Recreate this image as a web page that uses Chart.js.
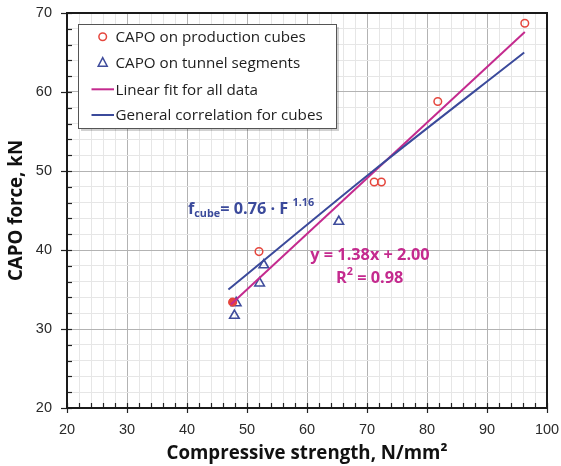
<!DOCTYPE html>
<html>
<head>
<meta charset="utf-8">
<script src="https://cdn.jsdelivr.net/npm/chart.js@4/dist/chart.umd.min.js"></script>
<style>
html,body{margin:0;padding:0;background:#fff;}
#wrap{width:561px;height:466px;}
</style>
</head>
<body>
<div id="wrap"><canvas id="c" width="561" height="466"></canvas></div>
<script>
// ---- data ----
const cubesX = [47.6, 52.0, 71.2, 72.4, 81.8, 96.3];
const cubesY = [33.4, 39.8, 48.6, 48.6, 58.8, 68.7];
const segmentsX = [48.2, 47.9, 52.1, 52.8, 65.3];
const segmentsY = [33.3, 31.7, 35.8, 38.1, 43.6];
const linearFitX = [47.3, 96.3];
const linearFitY = [33.1, 67.6];
const correlationX = [46.9, 71.0, 96.2];
const correlationY = [35.0, 50.0, 65.0];
const seriesLabels = ['CAPO on production cubes', 'CAPO on tunnel segments', 'Linear fit for all data', 'General correlation for cubes'];
const xTitle = 'Compressive strength, N/mm²';
const yTitle = 'CAPO force, kN';
const xRange = [20, 100];
const yRange = [20, 70];
const majorStep = 10;
const minorStep = 2;

const RED = '#e5463d';
const TRI = '#3f4c9c';
const PINK = '#c42a8e';
const BLUE = '#3b4a9b';

const toXY = (xs, ys) => xs.map((x, i) => ({x: x, y: ys[i]}));

const framePlugin = {
  id: 'frame',
  afterDraw(chart) {
    const ctx = chart.ctx;
    const a = chart.chartArea;
    const xs = chart.scales.x, ys = chart.scales.y;
    ctx.save();
    // tick marks
    ctx.strokeStyle = '#222';
    ctx.lineWidth = 1.2;
    for (let v = xRange[0]; v <= xRange[1] + 1e-9; v += minorStep) {
      const px = Math.round(xs.getPixelForValue(v)) + 0.5;
      const major = Math.abs(v % majorStep) < 1e-6;
      ctx.beginPath();
      ctx.moveTo(px, a.bottom - 5);
      ctx.lineTo(px, a.bottom + (major ? 5 : 0));
      ctx.stroke();
    }
    for (let v = yRange[0]; v <= yRange[1] + 1e-9; v += minorStep) {
      const py = Math.round(ys.getPixelForValue(v)) + 0.5;
      const major = Math.abs(v % majorStep) < 1e-6;
      ctx.beginPath();
      ctx.moveTo(a.left - (major ? 6 : 0), py);
      ctx.lineTo(a.left + 5, py);
      ctx.stroke();
    }
    // frame
    ctx.strokeStyle = '#1a1a1a';
    ctx.lineWidth = 2;
    ctx.strokeRect(a.left, a.top, a.right - a.left, a.bottom - a.top);

    // legend box
    const lx = 78, ly = 24, lw = 258, lh = 104;
    ctx.fillStyle = 'rgba(0,0,0,0.18)';
    ctx.fillRect(lx + 3, ly + 3, lw, lh);
    ctx.fillStyle = '#fff';
    ctx.fillRect(lx, ly, lw, lh);
    ctx.strokeStyle = '#555';
    ctx.lineWidth = 1;
    ctx.strokeRect(lx + 0.5, ly + 0.5, lw, lh);
    const rows = [36.7, 62.7, 89.3, 115];
    const mx = 102.7;
    ctx.font = '15.2px "Open Sans", "Liberation Sans", sans-serif';
    ctx.textBaseline = 'middle';
    ctx.textAlign = 'left';
    const ds = chart.data.datasets;
    // circle
    ctx.lineWidth = 1.5;
    ctx.strokeStyle = ds[0].borderColor;
    ctx.beginPath(); ctx.arc(mx, rows[0], 3.8, 0, Math.PI * 2); ctx.stroke();
    // triangle
    ctx.strokeStyle = ds[1].borderColor;
    ctx.beginPath();
    ctx.moveTo(mx, rows[1] - 5);
    ctx.lineTo(mx + 4.5, rows[1] + 3.5);
    ctx.lineTo(mx - 4.5, rows[1] + 3.5);
    ctx.closePath(); ctx.stroke();
    // lines
    ctx.lineWidth = 2;
    ctx.strokeStyle = ds[2].borderColor;
    ctx.beginPath(); ctx.moveTo(91.5, rows[2]); ctx.lineTo(114, rows[2]); ctx.stroke();
    ctx.strokeStyle = ds[3].borderColor;
    ctx.beginPath(); ctx.moveTo(91.5, rows[3]); ctx.lineTo(114, rows[3]); ctx.stroke();
    ctx.fillStyle = '#1e1e1e';
    ds.forEach((d, i) => ctx.fillText(d.label, 115.5, rows[i] + 1));

    // equation annotations
    const big = 'bold 16.3px "Open Sans", "Liberation Sans", sans-serif';
    const small = 'bold 10.8px "Open Sans", "Liberation Sans", sans-serif';
    ctx.textBaseline = 'alphabetic';
    ctx.fillStyle = BLUE;
    let x = 188;
    const base = 214;
    ctx.font = big; ctx.fillText('f', x, base); x += ctx.measureText('f').width;
    ctx.font = small; ctx.fillText('cube', x, base + 3); x += ctx.measureText('cube').width;
    ctx.font = big; ctx.fillText('= 0.76 · F', x, base); x += ctx.measureText('= 0.76 · F ').width;
    ctx.font = small; ctx.fillText('1.16', x, base - 8);

    ctx.fillStyle = PINK;
    ctx.textAlign = 'center';
    ctx.font = big;
    ctx.fillText('y = 1.38x + 2.00', 370, 259.5);
    ctx.textAlign = 'left';
    const rStart = 336;
    ctx.fillText('R', rStart, 283);
    let rx = rStart + ctx.measureText('R').width;
    ctx.font = small;
    ctx.fillText('2', rx, 275);
    rx += ctx.measureText('2').width;
    ctx.font = big;
    ctx.fillText(' = 0.98', rx, 283);
    ctx.restore();
  }
};

const gridColor = (c) => (Math.abs(c.tick.value % majorStep) < 1e-6 ? '#b3b3b3' : '#e6e6e6');
const tickCb = (v) => (Math.abs(v % majorStep) < 1e-6 ? String(v) : '');
const zeroPad = (s) => { s.paddingTop = 0; s.paddingBottom = 0; s.paddingLeft = 0; s.paddingRight = 0; };
const cubeFill = cubesX.map((_, i) => (i === 0 ? RED : 'rgba(0,0,0,0)'));

new Chart(document.getElementById('c'), {
  type: 'scatter',
  data: {
    datasets: [
      {label: seriesLabels[0], data: toXY(cubesX, cubesY), pointStyle: 'circle', pointRadius: 3.8, borderColor: RED, backgroundColor: cubeFill, pointBackgroundColor: cubeFill, pointBorderWidth: 1.5, order: 2},
      {label: seriesLabels[1], data: toXY(segmentsX, segmentsY), pointStyle: 'triangle', pointRadius: 5.5, borderColor: TRI, backgroundColor: 'rgba(0,0,0,0)', pointBorderWidth: 1.6, order: 3},
      {label: seriesLabels[2], type: 'line', data: toXY(linearFitX, linearFitY), showLine: true, pointRadius: 0, borderColor: PINK, borderWidth: 2, fill: false, order: 1},
      {label: seriesLabels[3], type: 'line', data: toXY(correlationX, correlationY), showLine: true, pointRadius: 0, borderColor: BLUE, borderWidth: 2, tension: 0.3, fill: false, order: 0}
    ]
  },
  options: {
    responsive: false,
    animation: false,
    devicePixelRatio: 1,
    layout: {padding: {left: 0, top: 13, right: 14, bottom: 0}},
    plugins: {legend: {display: false}, tooltip: {enabled: false}},
    scales: {
      x: {
        type: 'linear', min: xRange[0], max: xRange[1],
        afterFit: (s) => { s.height = 58; zeroPad(s); },
        border: {display: false},
        grid: {color: gridColor, lineWidth: 1, drawTicks: false},
        ticks: {stepSize: minorStep, autoSkip: false, maxRotation: 0, callback: tickCb, padding: 13, color: '#2a2a2a', font: {size: 14.5, family: '"Liberation Sans", Arial, sans-serif'}},
        title: {display: true, text: xTitle, color: '#111', font: {size: 18.7, weight: 'bold', family: '"Open Sans", "Liberation Sans", sans-serif'}, padding: {top: 0, bottom: 1}}
      },
      y: {
        type: 'linear', min: yRange[0], max: yRange[1],
        afterFit: (s) => { s.width = 67; zeroPad(s); },
        border: {display: false},
        grid: {color: gridColor, lineWidth: 1, drawTicks: false},
        ticks: {stepSize: minorStep, autoSkip: false, callback: tickCb, padding: 15, color: '#2a2a2a', font: {size: 14.5, family: '"Liberation Sans", Arial, sans-serif'}},
        title: {display: true, text: yTitle, color: '#111', font: {size: 18.7, weight: 'bold', family: '"Open Sans", "Liberation Sans", sans-serif'}, padding: {top: 5, bottom: 0}}
      }
    }
  },
  plugins: [framePlugin]
});
</script>
</body>
</html>
